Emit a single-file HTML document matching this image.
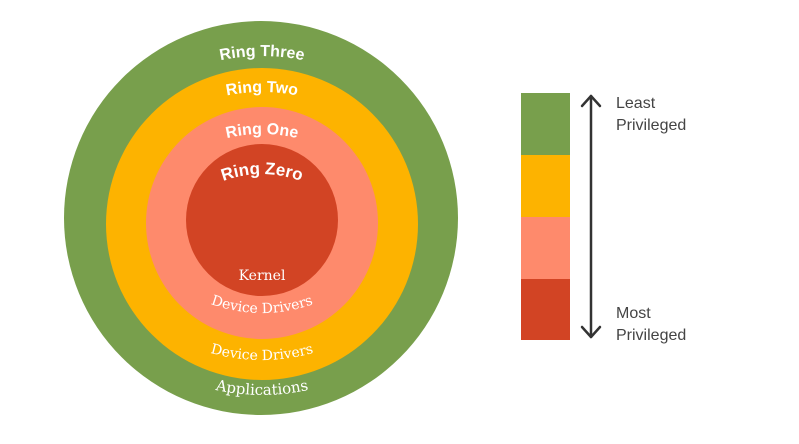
<!DOCTYPE html>
<html><head><meta charset="utf-8"><style>
html,body{margin:0;padding:0;background:#fff;}
svg{display:block;}
.h{font-family:"Liberation Sans","DejaVu Sans",sans-serif;font-weight:bold;fill:#fff;}
.s{font-family:"DejaVu Serif","Liberation Serif",serif;fill:#fff;}
.l{font-family:"Liberation Sans",sans-serif;font-size:16px;fill:#444;}
</style></head><body>
<svg width="799" height="444" viewBox="0 0 799 444" xmlns="http://www.w3.org/2000/svg">
<defs>
<path id="t3" d="M62,256 A200,200 0 0 1 462,256"/>
<path id="t2" d="M82,272 A180,180 0 0 1 442,272"/>
<path id="t1" d="M112,284 A150,150 0 0 1 412,284"/>
<path id="t0" d="M152,284 A110,110 0 0 1 372,284"/>
<path id="b3" d="M42,175 A220,220 0 0 0 482,175"/>
<path id="b2" d="M72,170 A190,190 0 0 0 452,170"/>
<path id="b1" d="M112,163 A150,150 0 0 0 412,163"/>
</defs>
<circle cx="261" cy="218" r="197" fill="#789f4c"/>
<circle cx="262" cy="224" r="156" fill="#fdb300"/>
<circle cx="262" cy="223" r="116" fill="#fe8a6c"/>
<circle cx="262" cy="220" r="76" fill="#d24424"/>
<text class="h" font-size="16"><textPath href="#t3" startOffset="50%" text-anchor="middle">Ring Three</textPath></text>
<text class="h" font-size="16"><textPath href="#t2" startOffset="50%" text-anchor="middle">Ring Two</textPath></text>
<text class="h" font-size="16"><textPath href="#t1" startOffset="50%" text-anchor="middle">Ring One</textPath></text>
<text class="h" font-size="17"><textPath href="#t0" startOffset="50%" text-anchor="middle">Ring Zero</textPath></text>
<text class="s" font-size="14" x="262" y="280" text-anchor="middle">Kernel</text>
<text class="s" font-size="14"><textPath href="#b1" startOffset="50%" text-anchor="middle">Device Drivers</textPath></text>
<text class="s" font-size="14"><textPath href="#b2" startOffset="50%" text-anchor="middle">Device Drivers</textPath></text>
<text class="s" font-size="15"><textPath href="#b3" startOffset="50%" text-anchor="middle">Applications</textPath></text>
<rect x="521" y="93" width="49" height="62" fill="#789f4c"/>
<rect x="521" y="155" width="49" height="62" fill="#fdb300"/>
<rect x="521" y="217" width="49" height="62" fill="#fe8a6c"/>
<rect x="521" y="279" width="49" height="61" fill="#d24424"/>
<g stroke="#333" stroke-width="2.5" fill="none" stroke-linecap="round" stroke-linejoin="round">
<line x1="591" y1="96" x2="591" y2="337"/>
<polyline points="582,106 591,96 600,106"/>
<polyline points="582,327 591,337 600,327"/>
</g>
<text class="l" x="616" y="108">Least</text>
<text class="l" x="616" y="130">Privileged</text>
<text class="l" x="616" y="318">Most</text>
<text class="l" x="616" y="340">Privileged</text>
</svg>
</body></html>
